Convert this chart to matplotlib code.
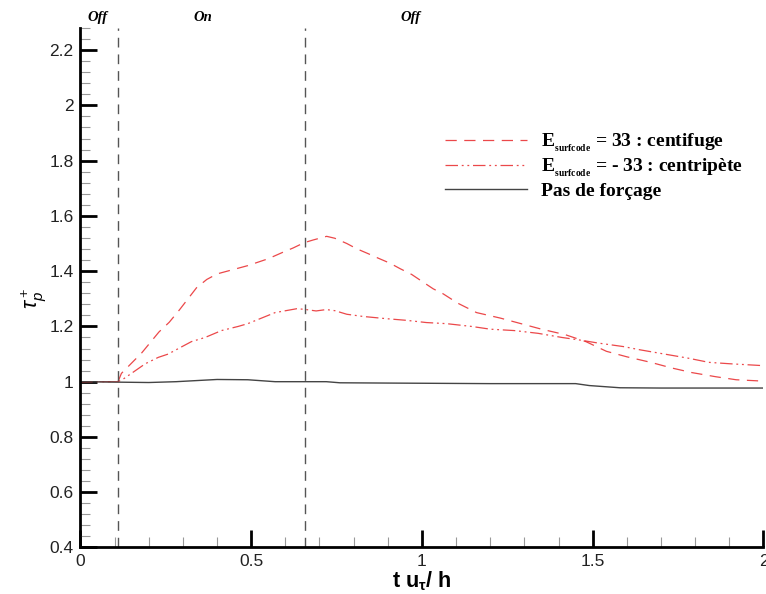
import matplotlib
matplotlib.use('Agg')
import matplotlib.pyplot as plt
from matplotlib.ticker import MultipleLocator

plt.rcParams['mathtext.fontset'] = 'custom'
plt.rcParams['mathtext.rm'] = 'Liberation Serif:bold'
plt.rcParams['mathtext.bf'] = 'Liberation Sans:bold'
plt.rcParams['mathtext.it'] = 'Liberation Sans:italic'

# t u_tau / h , tau_p^+
x_centri = [0, 0.10, 0.11, 0.12, 0.18, 0.23, 0.26, 0.29, 0.34, 0.37, 0.40, 0.43,
            0.49, 0.55, 0.594, 0.623, 0.655, 0.682, 0.721, 0.745, 0.78, 0.809,
            0.843, 0.872, 0.906, 0.936, 0.97, 0.999, 1.033, 1.062, 1.105, 1.16,
            1.23, 1.29, 1.35, 1.42, 1.48, 1.54, 1.60, 1.67, 1.73, 1.79, 1.86,
            1.92, 2.0]
y_centri = [1.0, 1.0, 1.0, 1.03, 1.105, 1.18, 1.215, 1.26, 1.34, 1.37, 1.39, 1.40,
            1.42, 1.445, 1.469, 1.484, 1.503, 1.513, 1.526, 1.519, 1.50, 1.481,
            1.463, 1.447, 1.429, 1.409, 1.388, 1.364, 1.336, 1.318, 1.284, 1.25,
            1.23, 1.21, 1.19, 1.17, 1.145, 1.11, 1.09, 1.07, 1.05, 1.033, 1.018,
            1.007, 1.002]

x_centripete = [0, 0.10, 0.11, 0.126, 0.19, 0.228, 0.257, 0.287, 0.325, 0.365,
                0.413, 0.462, 0.49, 0.53, 0.57, 0.633, 0.655, 0.69, 0.72, 0.745,
                0.78, 0.828, 0.896, 0.955, 1.013, 1.072, 1.145, 1.20, 1.27, 1.34,
                1.41, 1.466, 1.515, 1.59, 1.64, 1.71, 1.78, 1.84, 1.90, 2.0]
y_centripete = [1.0, 1.0, 1.0, 1.01, 1.065, 1.088, 1.10, 1.12, 1.145, 1.16,
                1.185, 1.20, 1.21, 1.23, 1.25, 1.264, 1.262, 1.256, 1.261, 1.257,
                1.244, 1.236, 1.228, 1.222, 1.214, 1.21, 1.20, 1.19, 1.185, 1.175,
                1.16, 1.15, 1.14, 1.127, 1.115, 1.10, 1.085, 1.07, 1.065, 1.058]

x_ref = [0, 0.2, 0.28, 0.40, 0.49, 0.57, 0.72, 0.76, 0.9, 1.2, 1.45, 1.49, 1.58,
         1.7, 2.0]
y_ref = [1.0, 0.997, 1.0, 1.008, 1.007, 1.0, 1.0, 0.996, 0.995, 0.993, 0.993,
         0.986, 0.978, 0.977, 0.977]

x_switch = [0.11, 0.657]
phase_labels = ['Off', 'On', 'Off']
phase_x = [0.051, 0.359, 0.968]

fig = plt.figure(figsize=(7.66, 5.94), dpi=100)
ax = fig.add_axes([0.105, 0.0783, 0.8917, 0.8746])

red = '#e8282a'
ax.plot(x_centri, y_centri, color=red, lw=0.9, dashes=(9, 6), alpha=0.85,
        label=r'$\mathrm{E}_{{}_{\mathrm{surfcode}}}$ = 33 : centifuge')
ax.plot(x_centripete, y_centripete, color=red, lw=0.9,
        dashes=(10, 3, 1.5, 3, 1.5, 3), alpha=0.85,
        label=r'$\mathrm{E}_{{}_{\mathrm{surfcode}}}$ = - 33 : centripète')
ax.plot(x_ref, y_ref, color='#444444', lw=1.0, label='Pas de forçage')

for xs in x_switch:
    ax.axvline(xs, color='#555555', lw=1.0, dashes=(7, 5))

for lab, xp in zip(phase_labels, phase_x):
    ax.text(xp, 1.008, lab, transform=ax.get_xaxis_transform(), ha='center',
            va='bottom', fontsize=10.5, fontstyle='italic', fontweight='bold',
            family='Liberation Serif', clip_on=False)

ax.set_xlim(0, 2)
ax.set_ylim(0.4, 2.28)
ax.xaxis.set_minor_locator(MultipleLocator(0.1))
ax.yaxis.set_minor_locator(MultipleLocator(0.04))
ax.set_xticks([0, 0.5, 1, 1.5, 2], ['0', '0.5', '1', '1.5', '2'])
ax.set_yticks([0.4, 0.6, 0.8, 1, 1.2, 1.4, 1.6, 1.8, 2, 2.2],
              ['0.4', '0.6', '0.8', '1', '1.2', '1.4', '1.6', '1.8', '2', '2.2'])
ax.tick_params(which='major', direction='in', length=12, width=2,
               labelsize=12.5, color='black', labelcolor='#222222', pad=5)
ax.tick_params(which='minor', direction='in', length=7, width=0.8,
               color='#999999')
for lbl in ax.get_xticklabels() + ax.get_yticklabels():
    lbl.set_family('Liberation Sans')

ax.spines['top'].set_visible(False)
ax.spines['right'].set_visible(False)
ax.spines['left'].set_linewidth(2)
ax.spines['bottom'].set_linewidth(2)

ax.set_xlabel(r'$\mathbf{t\ u_{\tau}/\ h}$', fontsize=15.5, labelpad=0)
ax.set_ylabel(r'$\tau_p^+$', fontsize=15.5, labelpad=0)
ax.yaxis.set_label_coords(-0.046, 0.48)

leg = ax.legend(loc='upper left', bbox_to_anchor=(0.534, 0.80), frameon=False,
                borderpad=0, borderaxespad=0,
                handlelength=4.2, handletextpad=0.72, labelspacing=0.15,
                prop={'family': 'Liberation Serif', 'weight': 'bold',
                      'size': 14})

fig.savefig('out.png', dpi=100)
